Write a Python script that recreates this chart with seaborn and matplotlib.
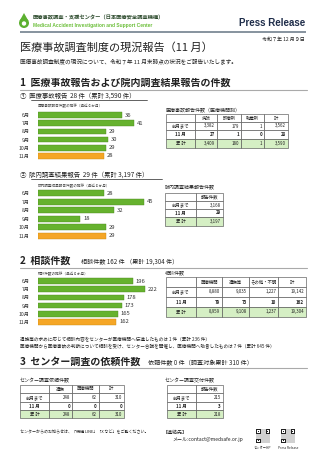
import matplotlib
matplotlib.use("Agg")
import matplotlib.pyplot as plt
from matplotlib.patches import Rectangle, Polygon, Circle
import seaborn as sns
import pandas as pd
import numpy as np

sns.set_theme()
sns.set_style("white")
plt.rcParams['font.family'] = ['Noto Sans CJK JP', 'DejaVu Sans']

# ---------------- data ----------------
months = ["6月", "7月", "8月", "9月", "10月", "11月"]
accident_reports = [36, 41, 29, 30, 29, 28]
internal_reports = [28, 45, 32, 18, 29, 29]
consultations = [196, 222, 178, 173, 165, 162]

t1_cols = ["", "病院", "診療所", "助産所", "計"]
t1_prev = ["前月まで", "3,382", "179", "1", "3,562"]
t1_month = ["11 月", "27", "1", "0", "28"]
t1_total = ["累 計", "3,409", "180", "1", "3,590"]

t2_cols = ["", "報告件数"]
t2_prev = ["前月まで", "3,168"]
t2_month = ["11 月", "29"]
t2_total = ["累 計", "3,197"]

t3_cols = ["", "医療機関", "遺族等", "その他・不明", "計"]
t3_prev = ["前月まで", "8,880", "9,035", "1,227", "19,142"]
t3_month = ["11 月", "79", "73", "10", "162"]
t3_total = ["累 計", "8,959", "9,108", "1,237", "19,304"]

t4_cols = ["", "遺族", "医療機関", "計"]
t4_prev = ["前月まで", "248", "62", "310"]
t4_month = ["11 月", "0", "0", "0"]
t4_total = ["累 計", "248", "62", "310"]

t5_cols = ["", "報告件数"]
t5_prev = ["前月まで", "215"]
t5_month = ["11 月", "3"]
t5_total = ["累 計", "218"]

GREEN = "#66b22e"
ORANGE = "#f5a626"
bar_colors = [GREEN] * 5 + [ORANGE]

W, H = 320, 453
fig = plt.figure(figsize=(W / 100, H / 100), dpi=100)

# overlay axes in pixel coordinates
ov = fig.add_axes([0, 0, 1, 1], zorder=0)
ov.set_xlim(0, W)
ov.set_ylim(H, 0)
ov.set_axis_off()

TXT = "#222222"

def T(x, y, s, fs, **kw):
    kw.setdefault("color", TXT)
    kw.setdefault("va", "center")
    ov.text(x, y, s, fontsize=fs, **kw)

# ---------------- header ----------------
ov.add_patch(Polygon([[24, 13], [19.5, 21], [28.5, 21]], closed=True, fc="#5cb030", ec="none"))
ov.add_patch(Circle((24, 23), 5, fc="#5cb030", ec="none"))
ov.add_patch(Circle((24, 23.5), 2.2, fc="white", ec="none"))
T(33, 18, "医療事故調査・支援センター（日本医療安全調査機構）", 3.8, weight="bold", color="#2c4a2c")
T(33, 26, "Medical Accident Investigation and Support Center", 3.5, weight="bold",
  color="#6cbf3a", family=["Liberation Sans", "DejaVu Sans"])
T(305, 23, "Press Release", 7.0, weight="bold", color="#1f2d4a", ha="right",
  family=["Liberation Sans", "DejaVu Sans"])
ov.plot([20, 306], [32, 32], color="#7d8a96", lw=1.3, solid_capstyle="butt")

T(305, 39, "令和７年 12 月９日", 3.6, ha="right")
T(20, 47, "医療事故調査制度の現況報告（11 月）", 8.0)
T(20, 61, "医療事故調査制度の現況について、令和７年 11 月末時点の状況をご報告いたします。", 4.1)

# ---------------- section 1 ----------------
T(20, 83, "1  医療事故報告および院内調査結果報告の件数", 7.2, weight="bold")
ov.plot([20, 307], [89.5, 89.5], color="#aaaaaa", lw=0.8)
T(20, 96, "①  医療事故報告  28 件（累計 3,590 件）", 4.6)
ov.plot([31, 147], [99.5, 99.5], color=TXT, lw=0.5)
T(38, 106, "医療事故報告件数の推移（直近６か月）", 2.6, color="#444")

T(20, 175, "②  院内調査結果報告  29 件（累計 3,197 件）", 4.6)
ov.plot([31, 162], [178.5, 178.5], color=TXT, lw=0.5)
T(38, 186, "院内調査結果報告件数の推移（直近６か月）", 2.6, color="#444")

# ---------------- section 2 ----------------
T(20, 261, "2  相談件数", 7.2, weight="bold")
T(81, 262, "相談件数 162 件 （累計 19,304 件）", 4.4)
ov.plot([20, 307], [267.5, 267.5], color="#aaaaaa", lw=0.8)
T(38, 274, "相談件数の推移（直近６か月）", 2.6, color="#444")

T(20, 339, "遺族等の求めに応じて相談内容をセンターが医療機関へ伝達したものは 1 件（累計 236 件）", 3.3)
T(20, 345.5, "医療機関から医療事故の判断について相談を受け、センター合議を開催し、医療機関へ助言したものは 7 件（累計 645 件）", 3.3)

# ---------------- section 3 ----------------
T(20, 362, "3  センター調査の依頼件数", 7.2, weight="bold")
T(148, 363, "依頼件数 0 件（調査対象累計 310 件）", 4.4)
ov.plot([20, 307], [367.5, 367.5], color="#aaaaaa", lw=0.8)

T(20, 432, "センターからのお知らせは、「機構 LINE」「X など」をご覧ください。", 2.9)
T(163, 432, "【連絡先】", 3.6)
T(172, 439, "メール:contact@medsafe.or.jp", 3.6)

# QR-like decorations (not data)
def qr(x0, y0, s):
    ov.add_patch(Rectangle((x0, y0), s, s, fc="white", ec="none"))
    ov.add_patch(Rectangle((x0, y0), s, s, fc="#d0d0d0", ec="none", hatch="++++", lw=0))
    for (dx, dy) in [(0, 0), (s - 4.5, 0), (0, s - 4.5)]:
        ov.add_patch(Rectangle((x0 + dx, y0 + dy), 4.5, 4.5, fc="#222", ec="none"))
        ov.add_patch(Rectangle((x0 + dx + 1, y0 + dy + 1), 2.5, 2.5, fc="white", ec="none"))
        ov.add_patch(Rectangle((x0 + dx + 1.7, y0 + dy + 1.7), 1.1, 1.1, fc="#222", ec="none"))

qr(256, 429, 14)
qr(281, 429, 14)
T(263, 448, "センターHP", 2.3, ha="center")
T(288, 448, "Press Release", 2.3, ha="center")

# ---------------- tables ----------------
def table(xs, ys, rows, fs=3.2):
    for r in range(len(ys) - 1):
        for c in range(len(xs) - 1):
            face = "#d5efc4" if r == 3 else "white"
            ov.add_patch(Rectangle((xs[c], ys[r]), xs[c + 1] - xs[c], ys[r + 1] - ys[r],
                                   fc=face, ec="#555555", lw=0.45))
            s = rows[r][c]
            yc = (ys[r] + ys[r + 1]) / 2
            wt = "bold" if r == 2 else "normal"
            if r == 0 or c == 0:
                ov.text((xs[c] + xs[c + 1]) / 2, yc, s, fontsize=fs, ha="center", va="center",
                        color=TXT, weight=wt)
            else:
                ov.text(xs[c + 1] - 2, yc, s, fontsize=fs, ha="right", va="center",
                        color=TXT, weight=wt)

T(165, 110, "医療事故報告件数（医療機関別）", 3.6)
table([166, 195, 217, 241, 264, 288], [114, 122, 130, 139, 148],
      [t1_cols, t1_prev, t1_month, t1_total])

T(165, 187, "院内調査結果報告件数", 3.6)
table([165, 196, 223], [193, 201, 209, 217, 226],
      [t2_cols, t2_prev, t2_month, t2_total])

T(165, 273, "相談件数", 3.6)
table([166, 196, 222, 249, 278, 306], [277, 287, 297, 307, 317],
      [t3_cols, t3_prev, t3_month, t3_total])

T(20, 381, "センター調査依頼件数", 3.6)
table([20, 49, 72, 99, 124], [385, 393, 402, 410, 418],
      [t4_cols, t4_prev, t4_month, t4_total])

T(165, 381, "センター調査交付件数", 3.6)
table([167, 196, 223], [385, 393, 402, 410, 418],
      [t5_cols, t5_prev, t5_month, t5_total])

# ---------------- bar charts ----------------
def bar_chart(values, xmax, x0, width_px, top, bottom):
    ax = fig.add_axes([x0 / W, 1 - bottom / H, width_px / W, (bottom - top) / H], zorder=2)
    ax.patch.set_alpha(0)
    df = pd.DataFrame({"month": months, "count": values})
    sns.barplot(data=df, x="count", y="month", hue="month", palette=bar_colors,
                legend=False, ax=ax, width=0.7, orient="h", saturation=1,
                edgecolor="#4d8a20", linewidth=0.3)
    if ax.patches:
        ax.patches[-1].set_edgecolor("#c98a10")
    for cont in ax.containers:
        ax.bar_label(cont, padding=2, fontsize=4.2, color="#333")
    ax.set_xlim(0, xmax)
    ax.set_xlabel("")
    ax.set_ylabel("")
    ax.set_xticks([])
    ax.tick_params(axis="y", length=0, labelsize=3.7, pad=6, colors="#333")
    for sp in ax.spines.values():
        sp.set_visible(False)
    return ax

bar_chart(accident_reports, 50, 38, 117, 111, 160)
bar_chart(internal_reports, 50, 38, 118, 189, 240)
bar_chart(consultations, 240, 38, 116, 277, 326)

fig.savefig("out.png", dpi=100)
